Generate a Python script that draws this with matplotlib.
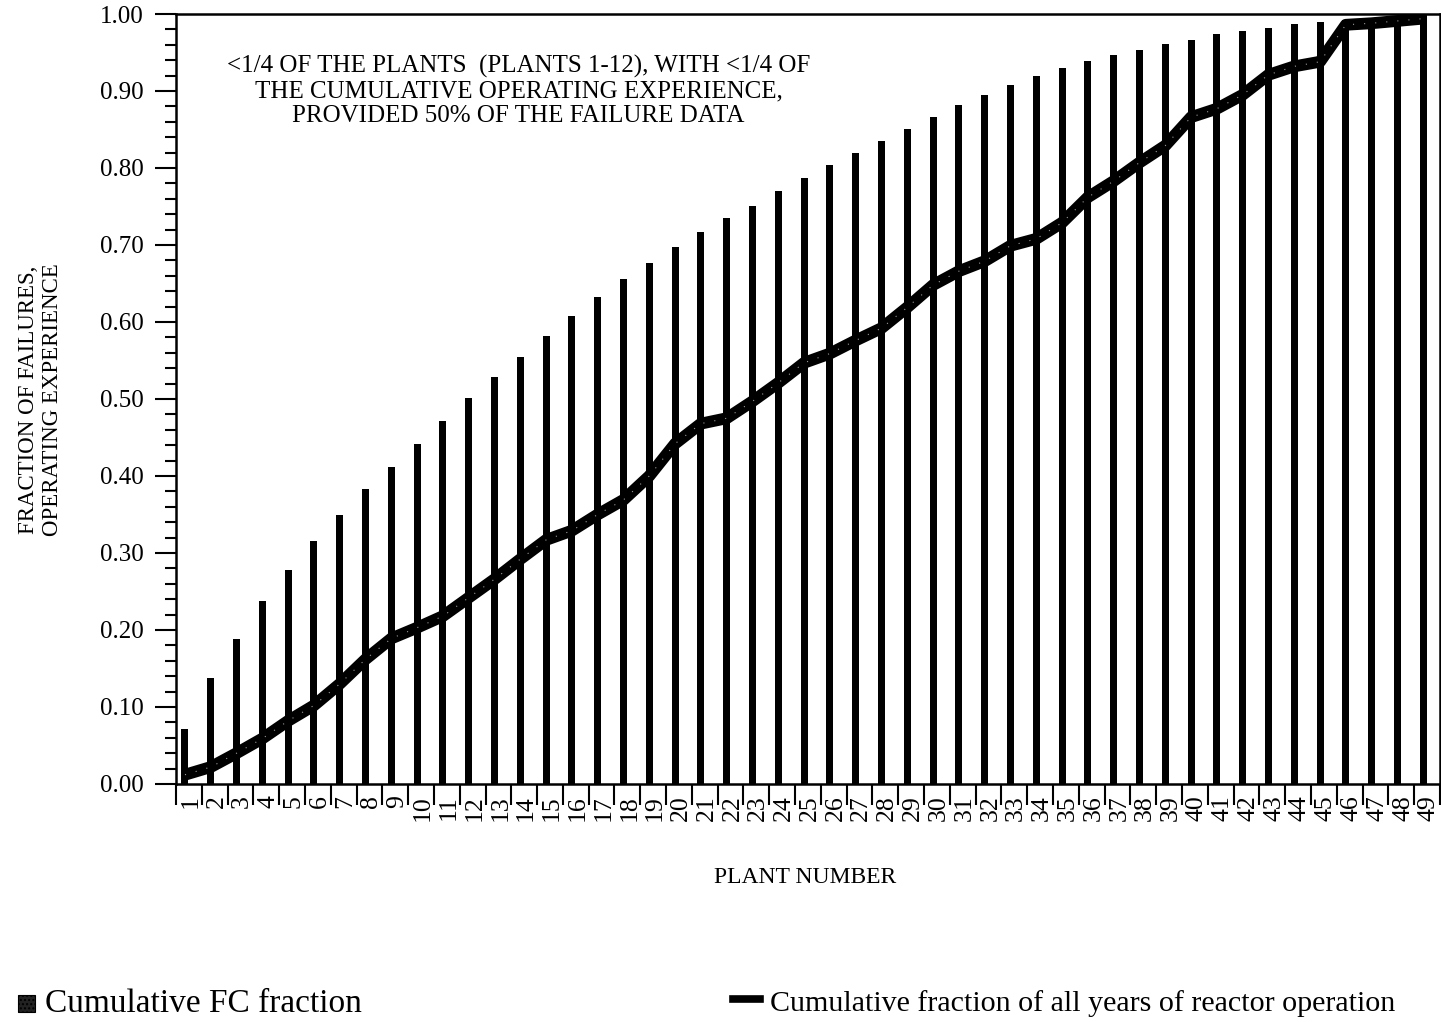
import numpy as np
import matplotlib
matplotlib.use("Agg")
import matplotlib.pyplot as plt
from matplotlib.patches import Rectangle
from matplotlib.lines import Line2D
from matplotlib.ticker import MultipleLocator, FixedLocator, NullFormatter

# -------------------------
# data
# -------------------------
plants = list(range(1, 50))

fc_fraction = [
    0.072, 0.138, 0.188, 0.238, 0.278, 0.315, 0.349, 0.383, 0.412, 0.442,
    0.472, 0.501, 0.529, 0.555, 0.582, 0.608, 0.633, 0.656, 0.677, 0.697,
    0.717, 0.735, 0.751, 0.770, 0.787, 0.804, 0.820, 0.835, 0.851, 0.866,
    0.882, 0.895, 0.908, 0.919, 0.930, 0.939, 0.947, 0.953, 0.961, 0.966,
    0.974, 0.978, 0.982, 0.987, 0.989, 0.992, 0.995, 0.998, 1.000,
]

years_fraction = [
    0.012, 0.022, 0.040, 0.059, 0.082, 0.102, 0.130, 0.162, 0.189, 0.203,
    0.218, 0.242, 0.266, 0.292, 0.317, 0.329, 0.350, 0.369, 0.400, 0.442,
    0.468, 0.475, 0.497, 0.521, 0.547, 0.559, 0.576, 0.592, 0.619, 0.648,
    0.666, 0.679, 0.699, 0.708, 0.729, 0.762, 0.783, 0.807, 0.829, 0.866,
    0.877, 0.895, 0.921, 0.932, 0.938, 0.986, 0.988, 0.991, 0.994,
]

note_lines = [
    "<1/4 OF THE PLANTS  (PLANTS 1-12), WITH <1/4 OF",
    "THE CUMULATIVE OPERATING EXPERIENCE,",
    "PROVIDED 50% OF THE FAILURE DATA",
]
bar_label = "Cumulative FC fraction"
line_label = "Cumulative fraction of all years of reactor operation"

# -------------------------
# figure
# -------------------------
plt.rcParams["font.family"] = ["Liberation Serif", "DejaVu Serif"]

fig = plt.figure(figsize=(14.41, 10.22), dpi=100)
ax = fig.add_axes([0.1221, 0.2329, 0.8772, 0.7534])

x = np.array(plants)

# bars (cumulative FC fraction)
ax.bar(x, fc_fraction, width=0.27, color="black", zorder=2)

# thick cumulative-years line
ax.plot(x, years_fraction, color="black", lw=8.5,
        solid_joinstyle="round", solid_capstyle="butt", zorder=3)
# faint speckle along the line centre (scan look)
ax.plot(x, years_fraction, color="#9a9a9a", lw=0.8, ls=(0, (1, 9)), zorder=4)

# axes limits
ax.set_xlim(0.65, 49.65)
ax.set_ylim(0, 1.0)

# y axis: major 0.10, minor 0.02
ax.yaxis.set_major_locator(MultipleLocator(0.1))
ax.yaxis.set_minor_locator(MultipleLocator(0.02))
ax.yaxis.set_major_formatter(plt.FuncFormatter(lambda v, p: f"{v:.2f}"))
ax.tick_params(axis="y", which="major", length=15, width=1.5, pad=8,
               labelsize=18, direction="out")
ax.tick_params(axis="y", which="minor", length=8, width=1.5, direction="out")

# x axis: labels near each plant, separators between them
ax.xaxis.set_major_locator(FixedLocator(x + 0.22))
ax.set_xticklabels([str(p) for p in plants], rotation=90, fontsize=18.5)
ax.xaxis.set_minor_locator(FixedLocator(np.arange(0.65, 50.0, 1.0)))
ax.xaxis.set_minor_formatter(NullFormatter())
ax.tick_params(axis="x", which="major", length=0, pad=8)
ax.tick_params(axis="x", which="minor", length=15, width=1.5, direction="out")

for s in ["left", "bottom", "top", "right"]:
    ax.spines[s].set_linewidth(1.8)

# note text inside the plot
ax.text(0.271, 0.90, "\n".join(note_lines), transform=ax.transAxes,
        ha="center", va="center", fontsize=18, linespacing=1.13,
        multialignment="center")

# axis titles
fig.text(0.559, 0.141, "PLANT NUMBER", ha="center", va="center", fontsize=17)
fig.text(0.028, 0.609, "FRACTION OF FAILURES,\nOPERATING EXPERIENCE",
         rotation=90, ha="center", va="center", fontsize=16.5,
         multialignment="center", linespacing=1.15)

# legend drawn at the bottom of the page
fig.patches.append(Rectangle((18 / 1441, 1 - 1012 / 1022), 17 / 1441, 17 / 1022,
                             transform=fig.transFigure, facecolor="#222222",
                             edgecolor="black", hatch="....", lw=0.8))
fig.text(45 / 1441, 1 - 1004 / 1022, bar_label, ha="left", va="center", fontsize=24)
fig.lines.append(Line2D([733 / 1441, 760 / 1441], [1 - 999 / 1022, 1 - 999 / 1022],
                        transform=fig.transFigure, color="black", lw=5.5))
fig.text(770 / 1441, 1 - 1004 / 1022, line_label, ha="left", va="center", fontsize=21.6)

fig.savefig("out.png", dpi=100)
